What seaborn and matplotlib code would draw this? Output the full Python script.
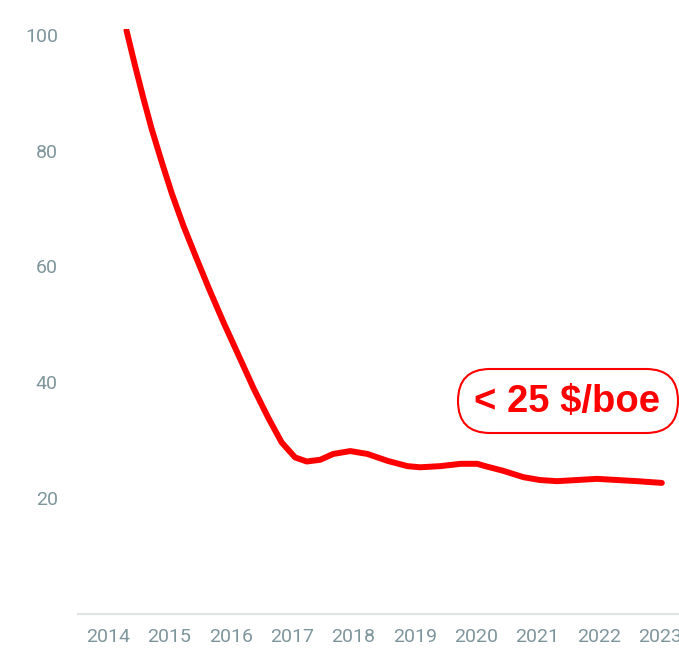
import matplotlib
matplotlib.use('Agg')
import matplotlib.pyplot as plt
import matplotlib.transforms as mtransforms
from matplotlib.patches import FancyBboxPatch
import pandas as pd
import seaborn as sns

# cost per boe (fractional years)
years = [2014.30, 2014.44, 2014.58, 2014.71, 2014.88, 2015.04, 2015.23, 2015.45,
         2015.64, 2015.88, 2016.13, 2016.37, 2016.61, 2016.83, 2017.05, 2017.24,
         2017.46, 2017.67, 2017.95, 2018.23, 2018.56, 2018.88, 2019.09, 2019.42,
         2019.75, 2020.02, 2020.15, 2020.44, 2020.77, 2021.04, 2021.32, 2021.65,
         2021.97, 2022.30, 2022.63, 2023.03]
cost = [100.8, 94.7, 88.9, 83.8, 77.9, 72.6, 67.0, 61.2,
        56.3, 50.4, 44.6, 39.0, 33.9, 29.6, 27.0, 26.3,
        26.6, 27.6, 28.1, 27.6, 26.4, 25.5, 25.3, 25.5,
        25.9, 25.9, 25.5, 24.7, 23.6, 23.1, 22.9, 23.1,
        23.3, 23.1, 22.9, 22.6]

tick_years = [2014, 2015, 2016, 2017, 2018, 2019, 2020, 2021, 2022, 2023]
y_ticks = [20, 40, 60, 80, 100]

df = pd.DataFrame({'year': years, 'cost': cost})

sns.set_style('white')
plt.rcParams['font.family'] = ['Roboto', 'DejaVu Sans']

fig = plt.figure(figsize=(6.79, 6.49), dpi=100)
ax = fig.add_axes([0.1149, 0.0544, 0.9113, 0.9006])

sns.lineplot(data=df, x='year', y='cost', ax=ax, color='#ff0000', linewidth=4.3,
             solid_capstyle='round', solid_joinstyle='round')

ax.set_xlim(2013.51, 2023.6)
ax.set_ylim(0, 101)
ax.set_xticks(tick_years)
ax.set_xticklabels([str(y) for y in tick_years])
ax.set_yticks(y_ticks)
ax.set_xlabel('')
ax.set_ylabel('')

grey = '#7f959c'
ax.tick_params(axis='x', length=0, pad=10.5, labelsize=14, labelcolor=grey)
ax.tick_params(axis='y', length=0, pad=14.5, labelsize=14, labelcolor=grey)

for side in ['left', 'right', 'top']:
    ax.spines[side].set_visible(False)
ax.spines['bottom'].set_color('#dfe5e5')
ax.spines['bottom'].set_linewidth(1.5)

# pill label, in output pixels (origin bottom-left)
px = mtransforms.IdentityTransform()
box = FancyBboxPatch((458, 649 - 433), 220, 64,
                     boxstyle='round,pad=0,rounding_size=32',
                     transform=px, fc='white', ec='#ff0000', lw=1.5)
fig.patches.append(box)
fig.text(567 / 679, 1 - 402 / 649, '< 25 $/boe', ha='center', va='center',
         fontsize=27.5, fontweight='bold', color='#ff0000',
         family=['Liberation Sans', 'DejaVu Sans'])

plt.savefig('out.png', dpi=100)
